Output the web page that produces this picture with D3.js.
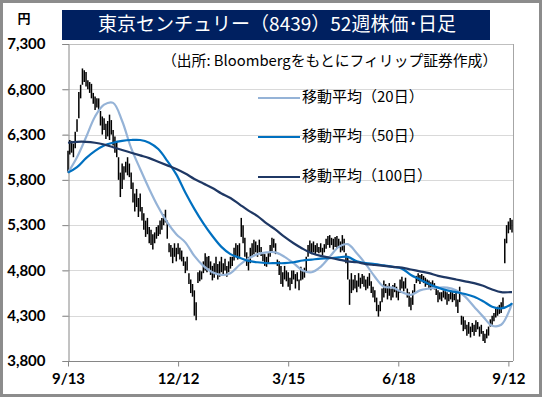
<!DOCTYPE html>
<html><head><meta charset="utf-8">
<script src="https://cdn.jsdelivr.net/npm/d3@7"></script>
<style>body{margin:0;background:#fff}svg{display:block}</style>
</head><body><svg id="c" width="542" height="397"></svg>
<script>
const titleText = "東京センチュリー（8439）52週株価･日足";
const sourceText = "（出所: Bloombergをもとにフィリップ証券作成）";
const unitText = "円";
const yTicks = [3800, 4300, 4800, 5300, 5800, 6300, 6800, 7300];
const xTickIdx = [0, 61, 122, 183, 244];
const xTickLabels = ["9/13", "12/12", "3/15", "6/18", "9/12"];
const legendLabels = ["移動平均（20日）", "移動平均（50日）", "移動平均（100日）"];

// daily low / high (trading-day index 0..246)
const lows = [5880,6080,6100,6050,6150,6330,6480,6700,6850,6880,6830,6800,6760,6700,6640,6570,6600,6560,6400,6300,
6350,6250,6280,6240,6300,6180,6100,6050,5800,5610,5700,5800,5880,5850,5830,5700,5550,5450,5500,5390,
5450,5350,5250,5170,5200,5100,5080,5030,5100,5150,5180,5200,5250,5300,5330,5150,5000,4950,4880,4950,
4900,4980,4920,4900,4850,4770,4800,4650,4550,4510,4300,4250,4660,4680,4700,4770,4800,4780,4820,4750,
4690,4720,4760,4700,4730,4780,4750,4800,4730,4780,4820,4850,4910,4950,4920,4950,5170,5100,4950,4850,
4800,4880,4950,4980,5000,4950,5000,4960,4900,4850,4840,4880,4950,5000,5050,4980,4850,4750,4650,4620,
4700,4680,4620,4580,4650,4700,4600,4680,4580,4690,4700,4720,4780,4950,5000,4980,5000,4970,5000,4990,
5000,4970,5000,5040,5080,5050,5080,5030,5060,5040,5050,5000,5020,5000,4880,4700,4420,4550,4580,4600,
4560,4620,4600,4650,4620,4580,4600,4630,4550,4500,4450,4350,4290,4350,4450,4500,4550,4480,4520,4470,
4500,4560,4500,4470,4550,4600,4570,4600,4500,4400,4360,4420,4550,4660,4680,4650,4680,4660,4620,4640,
4600,4580,4620,4590,4530,4450,4480,4460,4500,4480,4420,4460,4480,4450,4470,4400,4330,4450,4200,4130,
4150,4080,4100,4060,4120,4080,4120,4150,4070,4100,4020,4000,4050,4080,4180,4200,4240,4280,4300,4320,
4330,4380,4880,5100,5210,5250,5220];
const highs = [6120,6240,6230,6200,6330,6470,6770,6850,7030,7010,6990,6900,6880,6860,6760,6720,6700,6700,6560,6500,
6480,6420,6450,6520,6460,6350,6280,6230,6050,5880,5980,5950,6000,6050,5980,5880,5770,5650,5700,5600,
5650,5500,5430,5350,5380,5280,5250,5200,5220,5280,5300,5350,5380,5420,5470,5350,5100,5080,5050,5100,
5050,5100,5050,5020,4950,4900,4950,4770,4700,4650,4580,4450,4780,4800,4790,4900,4990,4950,4960,4900,
4850,4880,4950,4870,4900,4950,4880,4930,4850,4900,4950,4950,5050,5100,5080,5100,5380,5300,5160,5000,
4950,5050,5100,5140,5120,5080,5140,5060,4990,4980,4950,4990,5080,5160,5150,5100,4920,4900,4850,4780,
4850,4800,4780,4720,4800,4800,4760,4780,4700,4840,4800,4830,4950,5080,5130,5100,5120,5080,5100,5060,
5100,5050,5090,5150,5180,5190,5160,5150,5170,5180,5150,5120,5190,5150,4990,4950,4700,4770,4700,4750,
4690,4770,4720,4760,4740,4700,4730,4770,4680,4620,4580,4500,4420,4460,4600,4690,4650,4630,4660,4600,
4640,4660,4620,4580,4700,4730,4680,4720,4600,4560,4500,4580,4650,4740,4770,4750,4760,4740,4720,4700,
4690,4670,4690,4660,4620,4580,4560,4560,4580,4570,4560,4540,4570,4560,4540,4550,4480,4620,4300,4290,
4250,4200,4230,4180,4220,4200,4250,4230,4180,4200,4130,4100,4150,4180,4260,4300,4330,4380,4400,4420,
4450,4500,5150,5300,5340,5380,5360];

// moving averages sampled every 5 trading days (index 0,5,...,245) plus last day 246
const maIdx = [0,5,10,15,20,25,30,35,40,45,50,55,60,65,70,75,80,85,90,95,100,105,110,115,120,125,130,135,140,145,
150,155,160,165,170,175,180,185,190,195,200,205,210,215,220,225,230,235,240,245,246];
const ma20 = [5880,6050,6270,6500,6630,6650,6450,6150,5920,5700,5500,5330,5200,5110,4960,4850,4780,4750,4770,4860,
4930,4980,5000,5000,4950,4880,4800,4780,4840,4950,5060,5090,4990,4870,4730,4620,4610,4560,4530,4580,
4600,4610,4610,4580,4510,4400,4290,4190,4200,4380,4440];
const ma50 = [5880,5940,6040,6120,6180,6210,6230,6240,6240,6210,6140,6010,5860,5660,5480,5320,5180,5060,4980,4940,
4905,4890,4880,4880,4880,4890,4910,4920,4930,4935,4945,4950,4900,4880,4870,4855,4840,4820,4750,4700,
4650,4610,4580,4560,4540,4510,4460,4400,4380,4420,4440];
const ma100 = [6210,6220,6220,6210,6190,6160,6130,6100,6070,6040,6000,5960,5920,5870,5810,5760,5710,5650,5600,5530,
5460,5400,5320,5250,5170,5100,5040,4990,4960,4940,4920,4900,4890,4870,4860,4850,4840,4830,4810,4790,
4770,4740,4720,4700,4680,4660,4630,4590,4560,4560,4560];

const maColors = ["#95B3D7", "#0070C0", "#1F3864"];
const jp = "'Noto Sans CJK JP', 'Noto Sans', sans-serif";
const num = "Lato, 'Open Sans', sans-serif";

const svg = d3.select("#c");
const L = 68, R = 513, T = 44, B = 361;
const x = d3.scaleLinear().domain([0, 246]).range([L, 512]);
const y = d3.scaleLinear().domain([3800, 7300]).range([B, T]);

// outer frame
svg.append("rect").attr("x", 1.5).attr("y", 1.5).attr("width", 539).attr("height", 394)
  .attr("fill", "#fff").attr("stroke", "#8c8c8c").attr("stroke-width", 3);

// gridlines
svg.append("g").selectAll("line").data(yTicks.filter(v => v > 3800)).join("line")
  .attr("x1", 62).attr("x2", R).attr("y1", d => Math.round(y(d)) + 0.5).attr("y2", d => Math.round(y(d)) + 0.5)
  .attr("stroke", "#d9d9d9").attr("stroke-width", 1);
svg.append("line").attr("x1", R + 0.5).attr("x2", R + 0.5).attr("y1", T).attr("y2", B)
  .attr("stroke", "#a6a6a6");
svg.append("line").attr("x1", 62).attr("x2", R).attr("y1", T + 0.5).attr("y2", T + 0.5)
  .attr("stroke", "#bfbfbf");

// y axis
const yAxis = d3.axisLeft(y).tickValues(yTicks).tickSize(6).tickFormat(d3.format(","));
const gy = svg.append("g").attr("transform", `translate(${L + 0.5},0)`).call(yAxis);
gy.select(".domain").attr("stroke", "#868686");
gy.selectAll(".tick line").attr("stroke", "#868686");
gy.selectAll(".tick text").attr("x", -23).attr("font-family", num).attr("font-weight", "bold")
  .attr("font-size", 15).attr("fill", "#000");

// x axis
const xAxis = d3.axisBottom(x).tickValues(xTickIdx).tickSize(5).tickFormat((d, i) => xTickLabels[i]);
const gx = svg.append("g").attr("transform", `translate(0,${B + 0.5})`).call(xAxis);
gx.select(".domain").attr("stroke", "#868686").attr("d", `M${L},0H${R}`);
gx.selectAll(".tick line").attr("stroke", "#868686");
gx.selectAll(".tick text").attr("y", 12).attr("font-family", num).attr("font-weight", "bold")
  .attr("font-size", 15).attr("fill", "#000");

// price bars
svg.append("g").selectAll("line").data(lows).join("line")
  .attr("x1", (d, i) => x(i)).attr("x2", (d, i) => x(i))
  .attr("y1", d => y(d)).attr("y2", (d, i) => y(highs[i]))
  .attr("stroke", "#000").attr("stroke-width", 1.5);

// moving averages
const line = d3.line().x(d => x(d[0])).y(d => y(d[1])).curve(d3.curveCatmullRom);
[ma20, ma50, ma100].forEach((arr, k) => {
  svg.append("path").datum(arr.map((v, j) => [maIdx[j], v]))
    .attr("d", line).attr("fill", "none").attr("stroke", maColors[k]).attr("stroke-width", 2.2);
});

// title
svg.append("rect").attr("x", 62).attr("y", 10).attr("width", 428).attr("height", 30).attr("fill", "#002060");
svg.append("text").attr("x", 277).attr("y", 26).attr("text-anchor", "middle").attr("dominant-baseline", "middle")
  .attr("font-family", jp).attr("font-size", 19).attr("fill", "#fff").text(titleText);
svg.append("text").attr("x", 24).attr("y", 19).attr("text-anchor", "middle").attr("dominant-baseline", "middle")
  .attr("font-family", jp).attr("font-weight", "bold").attr("font-size", 13).text(unitText);

// source
svg.append("text").attr("x", 162).attr("y", 62).attr("dominant-baseline", "middle")
  .attr("font-family", jp).attr("font-size", 14.8).attr("fill", "#000").text(sourceText);

// legend
const legY = [98, 137, 177];
legendLabels.forEach((t, k) => {
  svg.append("line").attr("x1", 258).attr("x2", 300).attr("y1", legY[k]).attr("y2", legY[k])
    .attr("stroke", maColors[k]).attr("stroke-width", 2.2);
  svg.append("text").attr("x", 302).attr("y", legY[k]).attr("dominant-baseline", "middle")
    .attr("font-family", jp).attr("font-size", 15).attr("fill", "#000").text(t);
});
</script></body></html>
